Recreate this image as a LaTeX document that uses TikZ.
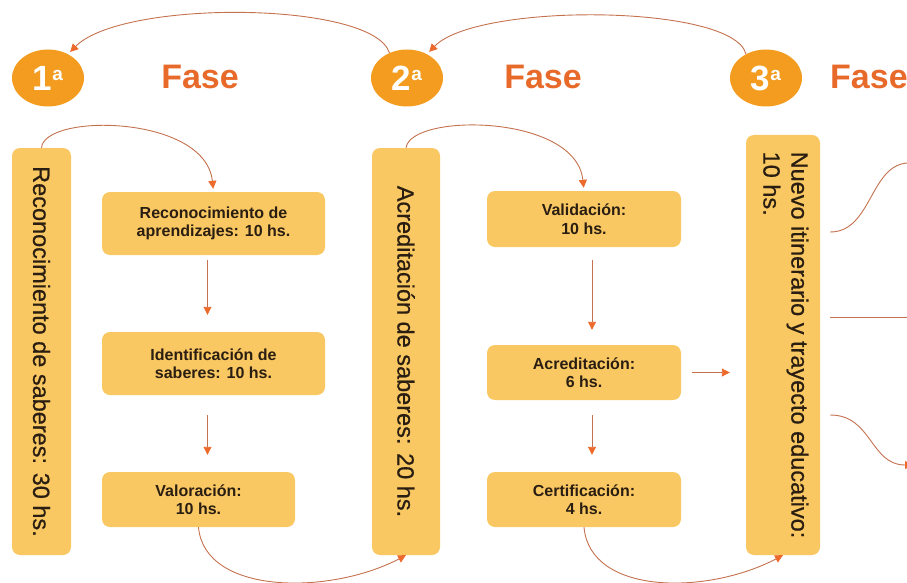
\documentclass[tikz,border=0pt]{standalone}
\usepackage{fontspec}
\setmainfont{Liberation Sans}
\newfontfamily\barfont[FakeBold=0.6]{Liberation Sans}
\usetikzlibrary{shapes.geometric,arrows.meta}

\definecolor{boxfill}{HTML}{FAC862}
\definecolor{circfill}{HTML}{F39C1F}
\definecolor{fasecol}{HTML}{E86A2A}
\definecolor{linecol}{HTML}{C4714E}
\definecolor{tipcol}{HTML}{EC6A2C}
\definecolor{txtcol}{HTML}{2A1E12}

\newcommand{\ordinal}[1]{{\fontsize{35}{35}\selectfont #1}\raisebox{10pt}{\fontsize{19}{19}\selectfont a}}

\begin{document}
\begin{tikzpicture}[x=1pt,y=-1pt,>=latex]
        % Styles
        \tikzstyle{phase} = [ellipse, fill=circfill, minimum width=72, minimum height=57,
                             inner sep=0pt, text=white, font=\bfseries]
        \tikzstyle{fase}  = [text=fasecol, font=\fontsize{34}{34}\selectfont\bfseries, inner sep=0pt]
        \tikzstyle{bar}   = [rectangle, fill=boxfill, rounded corners=8pt, inner sep=0pt,
                             text=txtcol, font=\barfont\fontsize{23.5}{28}\selectfont]
        \tikzstyle{block} = [rectangle, fill=boxfill, rounded corners=8pt, inner sep=0pt,
                             align=center, text=txtcol, font=\fontsize{16}{18.5}\selectfont\bfseries]
        \tikzstyle{arrow} = [-{Triangle[length=8pt,width=8pt,color=tipcol]}, draw=linecol, line width=0.9pt]

        \useasboundingbox (0,0) rectangle (907,583);

        % ==== Phase headers ====
        \node[phase] (c1) at (48,78)  {\ordinal{1}};
        \node[phase] (c2) at (407,78) {\ordinal{2}};
        \node[phase] (c3) at (766,78) {\ordinal{3}};
        \node[fase] (f1) at (200,77) {Fase};
        \node[fase] (f2) at (543,77) {Fase};
        \node[fase, anchor=west] (f3) at (830,77) {Fase};

        % ==== Vertical bars ====
        \node[bar, minimum width=59, minimum height=407] (bar1) at (41.5,351.5)
            {\rotatebox{-90}{Reconocimiento de saberes: 30 hs.}};
        \node[bar, minimum width=68, minimum height=407] (bar2) at (406,351.5)
            {\rotatebox{-90}{Acreditación de saberes: 20 hs.}};
        \node[bar, minimum width=74, minimum height=420] (bar3) at (783,345)
            {\rotatebox{-90}{\begin{tabular}{@{}l@{}}Nuevo itinerario y trayecto educativo:\\10 hs.\end{tabular}}};

        % ==== Steps of phase 1 ====
        \node[block, minimum width=223, minimum height=63] (A1) at (213.5,223.5) {Reconocimiento de\\aprendizajes: 10 hs.};
        \node[block, minimum width=223, minimum height=63] (A2) at (213.5,363.5) {Identificación de\\saberes: 10 hs.};
        \node[block, minimum width=193, minimum height=55] (A3) at (198.5,499.5) {Valoración:\\10 hs.};

        % ==== Steps of phase 2 ====
        \node[block, minimum width=194, minimum height=56] (B1) at (584,219)   {Validación:\\10 hs.};
        \node[block, minimum width=194, minimum height=55] (B2) at (584,372.5) {Acreditación:\\6 hs.};
        \node[block, minimum width=194, minimum height=55] (B3) at (584,499.5) {Certificación:\\4 hs.};

        % ==== Arrows between headers ====
        \draw[arrow, shorten >=3pt] (c2.125) .. controls +(-16,-52) and +(54,-55) .. (c1.50);
        \draw[arrow, shorten >=3pt] (c3.130) .. controls +(-12,-50) and +(50,-52) .. (c2.50);

        % ==== Phase 1 ====
        \draw[arrow, shorten >=3pt] (bar1.north) .. controls +(3,-35) and +(-8,-77) .. (A1.north);
        \draw[arrow, shorten <=5pt, shorten >=17pt] ([xshift=-6pt]A1.south) -- ([xshift=-6pt]A2.north);
        \draw[arrow, shorten <=20pt, shorten >=17pt] ([xshift=-6pt]A2.south) -- ([xshift=-6pt]A2.south |- A3.north);
        \draw[arrow] (A3.south) .. controls +(6,68) and +(-76,40) .. (bar2.south);

        % ==== Phase 2 ====
        \draw[arrow, shorten >=3pt] (bar2.north) .. controls +(5,-35) and +(-8,-77) .. (B1.north);
        \draw[arrow, shorten <=13pt, shorten >=15pt] ([xshift=8pt]B1.south) -- ([xshift=8pt]B2.north);
        \draw[arrow, shorten <=15pt, shorten >=17pt] ([xshift=8pt]B2.south) -- ([xshift=8pt]B3.north);
        \draw[arrow, shorten <=11pt, shorten >=16pt] (B2.east) -- (bar3.west |- B2.east);
        \draw[arrow] (B3.south) .. controls +(6,68) and +(-76,40) .. (bar3.south);

        % ==== Phase 3 (leaving the page) ====
        \coordinate (out1) at (917,163);
        \coordinate (out2) at (917,317);
        \coordinate (out3) at (913,465);
        \draw[arrow] ([xshift=10pt,yshift=113pt]bar3.east) .. controls +(42,0) and +(-47,0) .. (out1);
        \draw[arrow] ([xshift=10pt,yshift=28pt]bar3.east) -- (out2);
        \draw[arrow] ([xshift=10pt,yshift=-70pt]bar3.east) .. controls +(42,0) and +(-43,0) .. (out3);
    \end{tikzpicture}
\end{document}
